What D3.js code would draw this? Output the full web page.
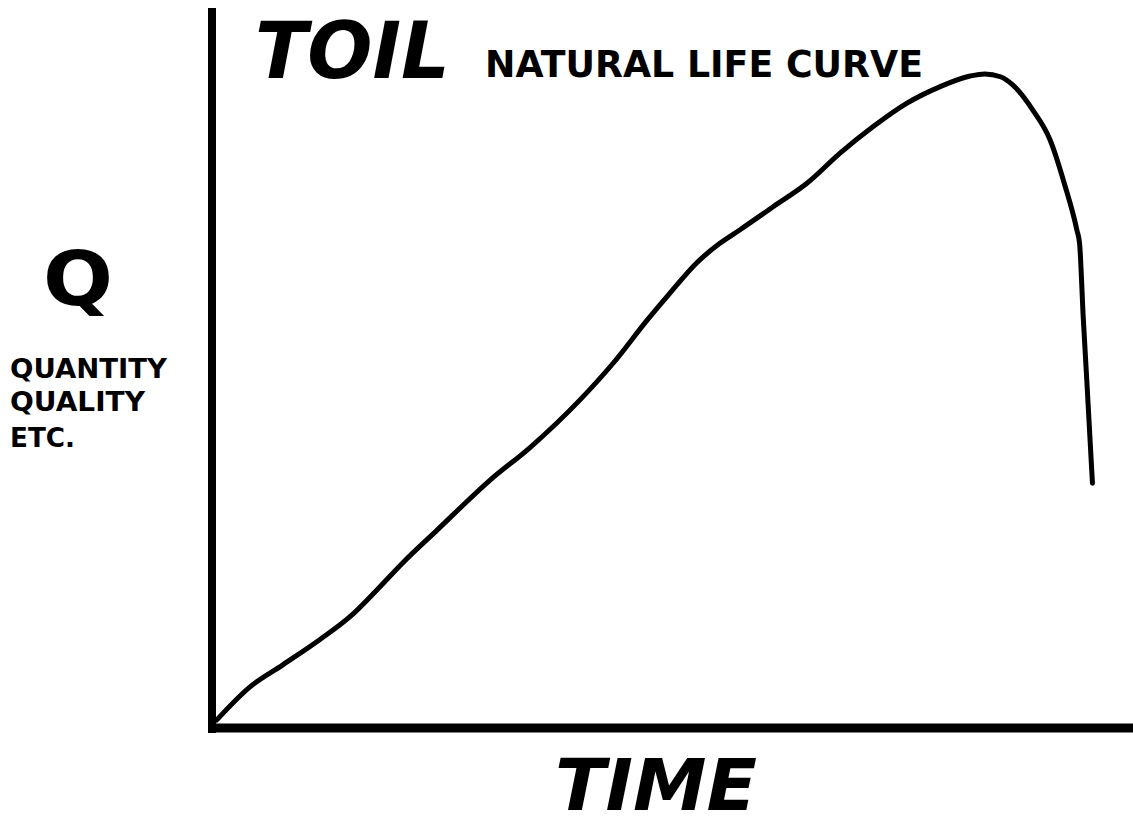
<!DOCTYPE html>
<html>
<head>
<meta charset="utf-8">
<script src="https://cdn.jsdelivr.net/npm/d3@7"></script>
<style>
  html, body { margin: 0; padding: 0; background: #fff; }
  svg { display: block; }
  text { font-family: "DejaVu Sans", "Liberation Sans", sans-serif; font-weight: bold; fill: #000; }
</style>
</head>
<body>
<svg id="chart" width="1133" height="828"></svg>
<script>
// ---- data ----
const timeValues = [0.5, 4.1, 7.7, 11.7, 15.0, 17.9, 20.8, 24.5, 30.2, 34.6, 40.0, 43.6, 47.3, 49.8, 52.7, 55.2, 57.4, 61.0, 64.7, 68.3, 71.8, 75.5, 79.1, 82.4, 84.0, 85.7, 87.0, 89.2, 91.1, 92.7, 94.0, 94.3, 94.7, 95.1, 95.7];
const qualityValues = [1.1, 5.7, 8.8, 12.3, 15.5, 19.2, 23.1, 27.6, 34.5, 39.1, 45.7, 50.8, 56.8, 60.6, 64.8, 67.5, 69.4, 72.6, 75.9, 80.1, 83.7, 87.0, 89.3, 90.8, 91.1, 90.7, 89.6, 86.1, 81.9, 75.6, 69.4, 67.5, 57.2, 48.1, 34.1];
const titleMain = "TOIL";
const titleSub = "NATURAL LIFE CURVE";
const yLabelBig = "Q";
const yLabelLines = ["QUANTITY", "QUALITY", "ETC."];
const xLabel = "TIME";

const svg = d3.select("#chart");

const x = d3.scaleLinear().domain([0, 100]).range([212, 1132]);
const y = d3.scaleLinear().domain([0, 100]).range([728, 10]);

// axes
svg.append("line")
  .attr("x1", x(0)).attr("x2", x(0))
  .attr("y1", y(0) + 5).attr("y2", y(100) - 2)
  .attr("stroke", "#000").attr("stroke-width", 8);
svg.append("line")
  .attr("x1", x(0) - 4).attr("x2", x(100) + 2)
  .attr("y1", y(0)).attr("y2", y(0))
  .attr("stroke", "#000").attr("stroke-width", 9);

// curve
const pts = timeValues.map((t, i) => [t, qualityValues[i]]);
const line = d3.line()
  .x(d => x(d[0]))
  .y(d => y(d[1]))
  .curve(d3.curveMonotoneX);
svg.append("path")
  .datum(pts)
  .attr("d", line)
  .attr("fill", "none")
  .attr("stroke", "#000")
  .attr("stroke-width", 5)
  .attr("stroke-linecap", "round")
  .attr("stroke-linejoin", "round");

// texts
svg.append("text")
  .attr("x", 255).attr("y", 78)
  .attr("font-size", 78)
  .attr("font-style", "italic")
  .attr("textLength", 195).attr("lengthAdjust", "spacingAndGlyphs")
  .text(titleMain);

svg.append("text")
  .attr("x", 485).attr("y", 77)
  .attr("font-size", 38)
  .attr("textLength", 438).attr("lengthAdjust", "spacingAndGlyphs")
  .text(titleSub);

svg.append("text")
  .attr("x", 43).attr("y", 305)
  .attr("font-size", 74)
  .attr("textLength", 70).attr("lengthAdjust", "spacingAndGlyphs")
  .text(yLabelBig);

const labelWidths = [157, 135, 65];
const labelBaselines = [378, 411, 447];
yLabelLines.forEach((s, i) => {
  svg.append("text")
    .attr("x", 10).attr("y", labelBaselines[i])
    .attr("font-size", 27)
    .attr("textLength", labelWidths[i]).attr("lengthAdjust", "spacingAndGlyphs")
    .text(s);
});

svg.append("text")
  .attr("x", 555).attr("y", 810)
  .attr("font-size", 72)
  .attr("font-style", "italic")
  .attr("textLength", 202).attr("lengthAdjust", "spacingAndGlyphs")
  .text(xLabel);
</script>
</body>
</html>
